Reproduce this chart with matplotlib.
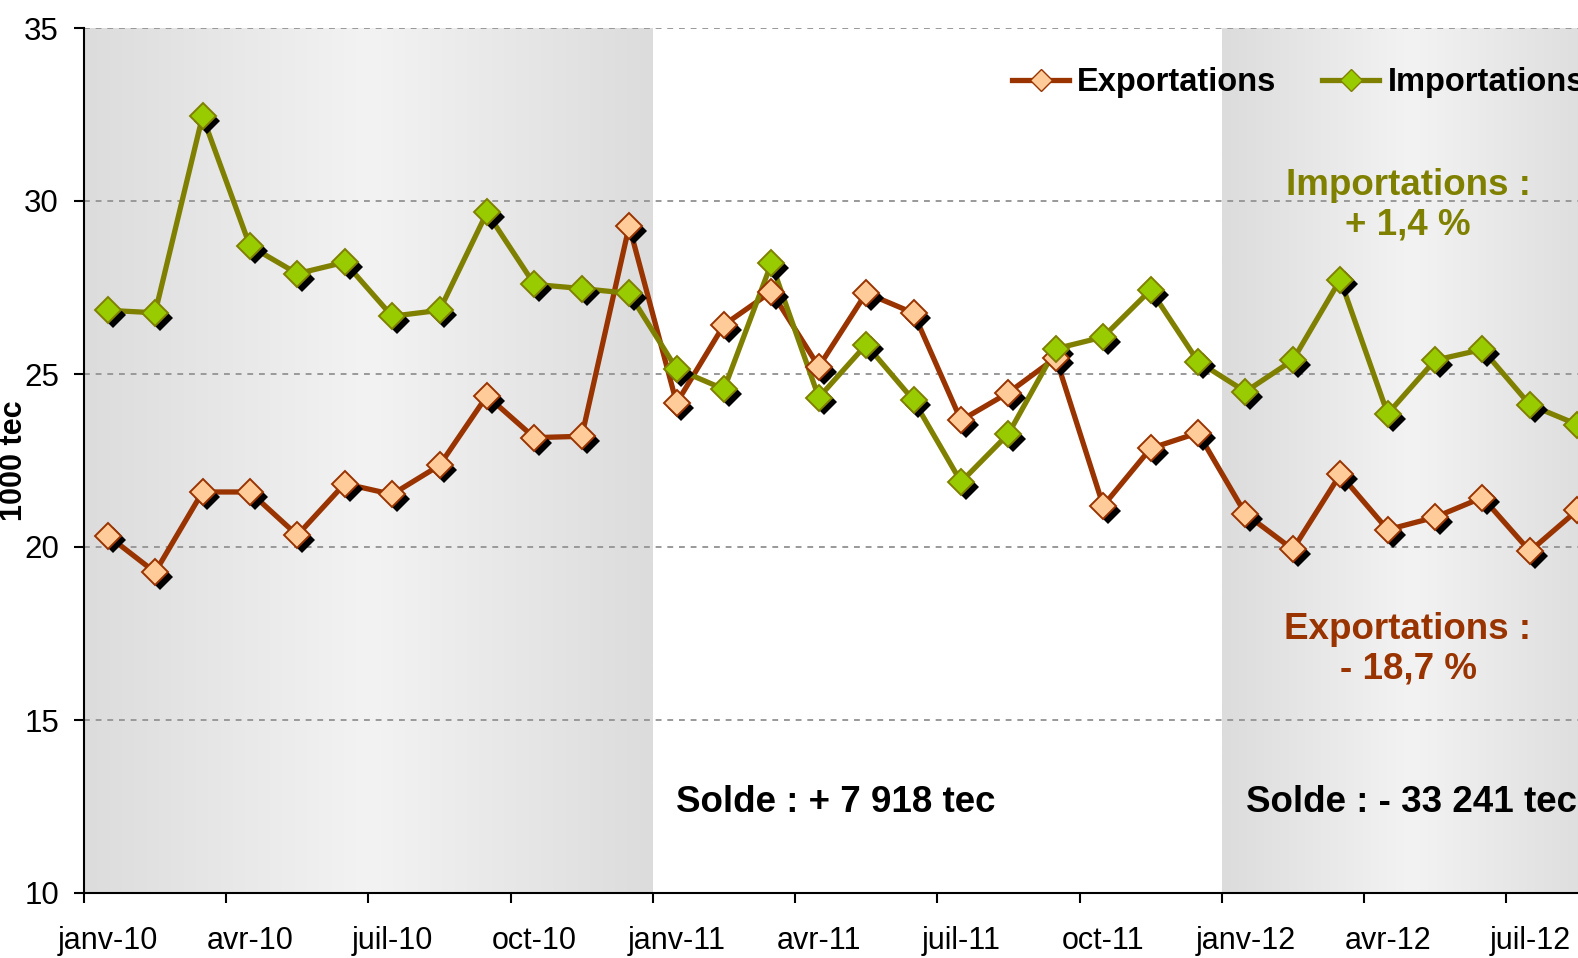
import numpy as np
import matplotlib
matplotlib.use("Agg")
import matplotlib.pyplot as plt
from matplotlib.transforms import ScaledTranslation
from matplotlib.lines import Line2D

plt.rcParams["font.family"] = ["Liberation Sans", "DejaVu Sans"]

# monthly values, janv-10 .. août-12 (1000 tec)
exports = [20.33, 19.27, 21.59, 21.59, 20.34, 21.83, 21.52, 22.36, 24.37, 23.16, 23.20, 29.28,
           24.16, 26.42, 27.38, 25.21, 27.34, 26.76, 23.66, 24.46, 25.47, 21.19, 22.85, 23.30,
           20.96, 19.93, 22.10, 20.50, 20.86, 21.43, 19.88, 21.06]
imports = [26.84, 26.77, 32.45, 28.70, 27.90, 28.23, 26.67, 26.84, 29.67, 27.59, 27.47, 27.33,
           25.15, 24.56, 28.20, 24.32, 25.85, 24.24, 21.88, 23.27, 25.73, 26.07, 27.43, 25.36,
           24.49, 25.40, 27.73, 23.85, 25.40, 25.71, 24.11, 23.54]
tick_labels = ["janv-10", "avr-10", "juil-10", "oct-10", "janv-11", "avr-11",
               "juil-11", "oct-11", "janv-12", "avr-12", "juil-12"]
shaded = [(-0.5, 11.5), (23.5, 31.5)]   # category spans with grey gradient

EXP_LINE, EXP_FACE = "#993300", "#FFCC99"
IMP_LINE, IMP_FACE = "#808000", "#99CC00"

fig = plt.figure(figsize=(15.78, 9.58), dpi=100)
ax = fig.add_axes([84/1578, 65/958, 1517/1578, 865/958])

# gradient blocks (dark edges, light centre)
t = np.linspace(-1, 1, 256)
g = (220 + 23*(1 - np.abs(t))) / 255.0
grad = np.dstack([g, g, g]).reshape(1, 256, 3)
for x0, x1 in shaded:
    ax.imshow(grad, extent=(x0, x1, 10, 35), aspect="auto", zorder=0, interpolation="bilinear")

x = np.arange(len(exports))
shadow = ax.transData + ScaledTranslation(3.5/72, -3.5/72, fig.dpi_scale_trans)
for y, lc, fc in [(exports, EXP_LINE, EXP_FACE), (imports, IMP_LINE, IMP_FACE)]:
    ax.plot(x, y, color=lc, lw=3.8, zorder=3)
    ax.plot(x, y, "D", ms=13, color="black", mew=0, transform=shadow, zorder=4)
    ax.plot(x, y, "D", ms=13, mfc=fc, mec=lc, mew=1.4, ls="none", zorder=5)

ax.set_xlim(-0.5, 31.5); ax.set_ylim(10, 35)
ax.set_yticks([10, 15, 20, 25, 30, 35])
ax.grid(axis="y", ls=(0, (3, 3)), color="#999999", lw=1.4)
ax.set_xticks(np.arange(-0.5, 32, 3))
ax.set_xticklabels([])
ax.set_xticks(np.arange(0, 32, 3), minor=True)
ax.set_xticklabels(tick_labels, minor=True)
ax.tick_params(axis="x", which="major", length=7, width=1.5, direction="out")
ax.tick_params(axis="x", which="minor", length=0, pad=24, labelsize=22)
ax.tick_params(axis="y", length=7, width=1.5, pad=11, labelsize=22.5)
for s in ["top", "right"]:
    ax.spines[s].set_visible(False)
for s in ["left", "bottom"]:
    ax.spines[s].set_linewidth(1.5)
ax.set_ylabel("1000 tec", fontsize=22, fontweight="bold")
ax.yaxis.set_label_coords(-0.036, 0.5)

# legend (no shadows on handles)
hs = [Line2D([], [], color=EXP_LINE, lw=3.8, marker="D", ms=11, mfc=EXP_FACE, mec=EXP_LINE),
      Line2D([], [], color=IMP_LINE, lw=3.8, marker="D", ms=11, mfc=IMP_FACE, mec=IMP_LINE)]
fig.legend(hs, ["Exportations", "Importations"], loc="center left",
           bbox_to_anchor=(1012/1578, 1 - 83/958), ncol=2, frameon=False, borderpad=0,
           borderaxespad=0, handlelength=1.75, handletextpad=0.25, columnspacing=1.4,
           prop={"size": 23.5, "weight": "bold"})

fig.text(1408/1578, 1 - 205/958, "Importations :\n+ 1,4 %", ha="center", va="center",
         fontsize=26.5, fontweight="bold", color=IMP_LINE, linespacing=1.15)
fig.text(1408/1578, 1 - 649/958, "Exportations :\n- 18,7 %", ha="center", va="center",
         fontsize=26.5, fontweight="bold", color=EXP_LINE, linespacing=1.15)
fig.text(836/1578, 1 - 803/958, "Solde : + 7 918 tec", ha="center", va="center",
         fontsize=26.5, fontweight="bold", color="black")
fig.text(1246/1578, 1 - 803/958, "Solde : - 33 241 tec", ha="left", va="center",
         fontsize=26.5, fontweight="bold", color="black")

fig.savefig("out.png", dpi=100)
